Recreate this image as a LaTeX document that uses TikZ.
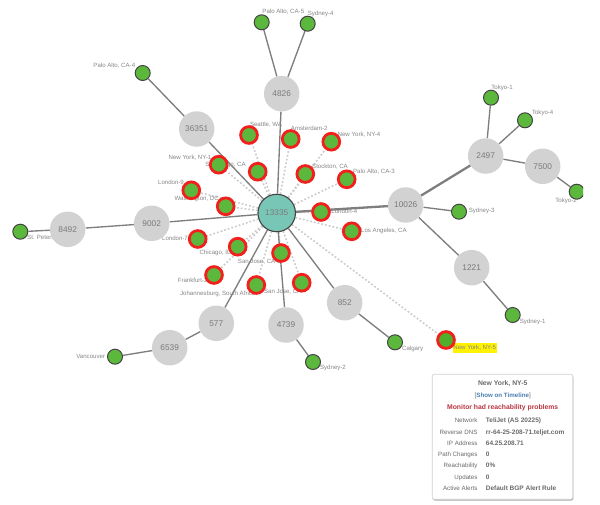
\documentclass[tikz,border=0pt]{standalone}
\usepackage{fontspec}
\setmainfont{Liberation Sans}
\usetikzlibrary{shadows}
\definecolor{asgray}{HTML}{D2D2D2}
\definecolor{edgec}{HTML}{7E7E7E}
\definecolor{dotc}{HTML}{CCCCCC}
\definecolor{txtc}{HTML}{858585}
\definecolor{numc}{HTML}{7A7A7A}
\definecolor{core}{HTML}{78C6B6}
\definecolor{mon}{HTML}{5CB83C}
\definecolor{monbad}{HTML}{4FAE2A}
\definecolor{alarm}{HTML}{F2201C}
\definecolor{ringc}{HTML}{444444}
\definecolor{panelt}{HTML}{6A6A6A}
\definecolor{linkc}{HTML}{4A7EB0}
\definecolor{warnc}{HTML}{B8343F}
\pgfdeclarelayer{edges}
\pgfdeclarelayer{labels}
\pgfsetlayers{edges,labels,main}
\tikzset{
  asnode/.style={circle,fill=asgray,minimum size=35.5pt,inner sep=0pt,text=numc,font=\fontsize{8.3pt}{9pt}\selectfont},
  corenode/.style={circle,fill=core,draw=ringc,line width=1.1pt,minimum size=37.5pt,inner sep=0pt,text=numc,font=\fontsize{8.3pt}{9pt}\selectfont},
  goodmon/.style={circle,fill=mon,draw=ringc,line width=1pt,minimum size=15pt,inner sep=0pt},
  badmon/.style={circle,fill=mon,draw=alarm,line width=2.8pt,minimum size=16.8pt,inner sep=0pt},
  lbl/.style={text=txtc,inner sep=0pt,text height=4.5pt,text depth=1.2pt,font=\fontsize{6.1pt}{7pt}\selectfont},
  link/.style={draw=edgec,line width=1.35pt},
  fatlink/.style={draw=edgec,line width=2.3pt},
  downlink/.style={draw=dotc,line width=1.6pt,dash pattern=on 1.8pt off 2pt},
  keytxt/.style={anchor=east,text=panelt,inner sep=0pt,text height=4.6pt,text depth=1.2pt,font=\fontsize{6.2pt}{7pt}\selectfont},
  valtxt/.style={anchor=west,text=panelt,inner sep=0pt,text height=4.6pt,text depth=1.2pt,font=\fontsize{6.5pt}{7pt}\selectfont\bfseries},
  headtxt/.style={inner sep=0pt,text height=4.8pt,text depth=1.3pt,font=\fontsize{6.8pt}{7pt}\selectfont\bfseries},
}
\begin{document}
\begin{tikzpicture}[x=1pt,y=-1pt]
\useasboundingbox (0,0) rectangle (600,504);
% AS nodes
\node[corenode] (n13335) at (276.7,213) {13335};
\node[asnode] (n4826) at (281.7,93.7) {4826};
\node[asnode] (n36351) at (196.7,129) {36351};
\node[asnode] (n9002) at (151.7,223.3) {9002};
\node[asnode] (n8492) at (67.7,229.3) {8492};
\node[asnode] (n577) at (216.3,323.3) {577};
\node[asnode] (n6539) at (169.7,347.7) {6539};
\node[asnode] (n4739) at (286,325) {4739};
\node[asnode] (n852) at (344.7,302.7) {852};
\node[asnode] (n10026) at (405.7,205) {10026};
\node[asnode] (n2497) at (485.7,156) {2497};
\node[asnode] (n7500) at (542.7,166.3) {7500};
\node[asnode] (n1221) at (471.7,267.7) {1221};
% healthy monitors
\node[goodmon] (stp) at (20.3,231.7) {};
\node[goodmon] (van) at (115,356.7) {};
\node[goodmon] (syd2) at (313,362) {};
\node[goodmon] (cal) at (395,342.3) {};
\node[goodmon] (tok1) at (491,97.7) {};
\node[goodmon] (tok4) at (525,120.3) {};
\begin{scope}
\clip (0,0) rectangle (583,504);
\node[goodmon] (tok2) at (576.7,191.7) {};
\end{scope}
\node[goodmon] (syd3) at (459,211.7) {};
\node[goodmon] (syd1) at (512.7,315) {};
\node[goodmon] (pa5) at (261.7,22.3) {};
\node[goodmon] (syd4) at (307.7,23.7) {};
\node[goodmon] (pa4) at (142.7,73) {};
% monitors with problems
\node[badmon] (sea) at (249,135) {};
\node[badmon] (ams) at (290.7,139) {};
\node[badmon] (ny4) at (331.3,141.7) {};
\node[badmon] (ny1) at (218.7,164.7) {};
\node[badmon] (sd) at (257.7,171.7) {};
\node[badmon] (sto) at (305.3,174) {};
\node[badmon] (pa3) at (346.7,179.3) {};
\node[badmon] (lon9) at (191.3,190.3) {};
\node[badmon] (was) at (225.7,206.3) {};
\node[badmon] (lon4) at (321,212) {};
\node[badmon] (la) at (351.7,231.3) {};
\node[badmon] (lon7) at (197.7,239) {};
\node[badmon] (chi) at (237.7,246.7) {};
\node[badmon] (sj3) at (281,253) {};
\node[badmon] (fra) at (214,275) {};
\node[badmon] (joh) at (256.3,285) {};
\node[badmon] (sj) at (301.7,282.7) {};
\node[badmon,fill=monbad] (ny5) at (446,340) {};
\begin{pgfonlayer}{labels}
\fill[yellow] (453,343.3) rectangle (496.7,353.3);
\node[lbl] (l1) at (266,125) {Seattle, WA};
\node[lbl] (l2) at (309.3,128.7) {Amsterdam-2};
\node[lbl] (l3) at (359,134.5) {New York, NY-4};
\node[lbl] (l4) at (190,157.7) {New York, NY-1};
\node[lbl] (l5) at (225.5,165) {San Diego, CA};
\node[lbl] (l6) at (330,166.7) {Stockton, CA};
\node[lbl] (l7) at (374,172) {Palo Alto, CA-3};
\node[lbl] (l8) at (171,183) {London-9};
\node[lbl] (l9) at (196.7,199.3) {Washington, DC};
\node[lbl] (l10) at (344.3,212.3) {London-4};
\node[lbl,anchor=west] (l11) at (361,231) {Los Angeles, CA};
\node[lbl] (l12) at (175,239) {London-7};
\node[lbl] (l13) at (215,252.7) {Chicago, IL};
\node[lbl] (l14) at (259.3,262) {San Jose, CA-3};
\node[lbl] (l15) at (192.7,281.3) {Frankfurt-2};
\node[lbl] (l16) at (217.7,294.3) {Johannesburg, South Africa};
\node[lbl] (l17) at (282.7,292) {San Jose, CA};
\node[lbl,anchor=west] (l18) at (27,238.3) {St. Petersburg};
\node[lbl] (l19) at (90.7,356.7) {Vancouver};
\node[lbl] (l20) at (333,368.3) {Sydney-2};
\node[lbl] (l21) at (412.7,349) {Calgary};
\node[lbl] (l22) at (474.7,347.5) {New York, NY-5};
\node[lbl] (l23) at (532.7,321.7) {Sydney-1};
\node[lbl] (l24) at (481.7,211.3) {Sydney-3};
\node[lbl] (l25) at (502,87.7) {Tokyo-1};
\node[lbl] (l26) at (542.7,113) {Tokyo-4};
\node[lbl] (l27) at (566,201) {Tokyo-2};
\node[lbl] (l28) at (283.3,12.3) {Palo Alto, CA-5};
\node[lbl] (l29) at (320.7,14) {Sydney-4};
\node[lbl] (l30) at (114.3,65.7) {Palo Alto, CA-4};
\end{pgfonlayer}
\begin{pgfonlayer}{edges}
\foreach \m in {sea,ams,ny4,ny1,sd,sto,pa3,lon9,was,lon4,la,lon7,chi,sj3,fra,joh,sj,ny5}
  \draw[downlink] (n13335) -- (\m);
\draw[fatlink] (n13335) -- (n10026);
\draw[fatlink] (n10026) -- (n2497);
\draw[link] (n13335) -- (n4826);
\draw[link] (n13335) -- (n36351);
\draw[link] (n13335) -- (n9002);
\draw[link] (n13335) -- (n577);
\draw[link] (n13335) -- (n4739);
\draw[link] (n13335) -- (n852);
\draw[link] (n9002) -- (n8492);
\draw[link] (n8492) -- (stp);
\draw[link] (n577) -- (n6539);
\draw[link] (n6539) -- (van);
\draw[link] (n4739) -- (syd2);
\draw[link] (n852) -- (cal);
\draw[link] (n10026) -- (syd3);
\draw[link] (n10026) -- (n1221);
\draw[link] (n1221) -- (syd1);
\draw[link] (n2497) -- (tok1);
\draw[link] (n2497) -- (tok4);
\draw[link] (n2497) -- (n7500);
\draw[link] (n7500) -- (tok2);
\draw[link] (n4826) -- (pa5);
\draw[link] (n4826) -- (syd4);
\draw[link] (n36351) -- (pa4);
\end{pgfonlayer}
% detail panel
\node[draw=asgray,line width=.7pt,fill=white,rounded corners=2pt,minimum width=140.5pt,minimum height=125pt,inner sep=0pt,
  drop shadow={shadow xshift=.6pt,shadow yshift=-1.2pt,fill=black!55,opacity=.6}] (panel) at (502.5,436.8) {};
\node[headtxt,text=panelt] (ptitle) at (502.7,384) {New York, NY-5};
\node[headtxt,text=panelt,font=\fontsize{6.2pt}{7pt}\selectfont] (plink) at (502.7,396) {[\textcolor{linkc}{\bfseries Show on Timeline}]};
\node[headtxt,text=warnc] (pwarn) at (502.7,408) {Monitor had reachability problems};
\node[keytxt] (k1) at (477.7,420.7) {Network};
\node[keytxt] (k2) at (477.7,432.3) {Reverse DNS};
\node[keytxt] (k3) at (477.7,443.5) {IP Address};
\node[keytxt] (k4) at (477.7,454.7) {Path Changes};
\node[keytxt] (k5) at (477.7,466) {Reachability};
\node[keytxt] (k6) at (477.7,477.3) {Updates};
\node[keytxt] (k7) at (477.7,488.7) {Active Alerts};
\node[valtxt] (v1) at (485.7,420.7) {TeliJet (AS 20225)};
\node[valtxt] (v2) at (485.7,432.3) {rr-64-25-208-71.teljet.com};
\node[valtxt] (v3) at (485.7,443.5) {64.25.208.71};
\node[valtxt] (v4) at (485.7,454.7) {0};
\node[valtxt] (v5) at (485.7,466) {0\%};
\node[valtxt] (v6) at (485.7,477.3) {0};
\node[valtxt] (v7) at (485.7,488.7) {Default BGP Alert Rule};
\end{tikzpicture}
\end{document}
